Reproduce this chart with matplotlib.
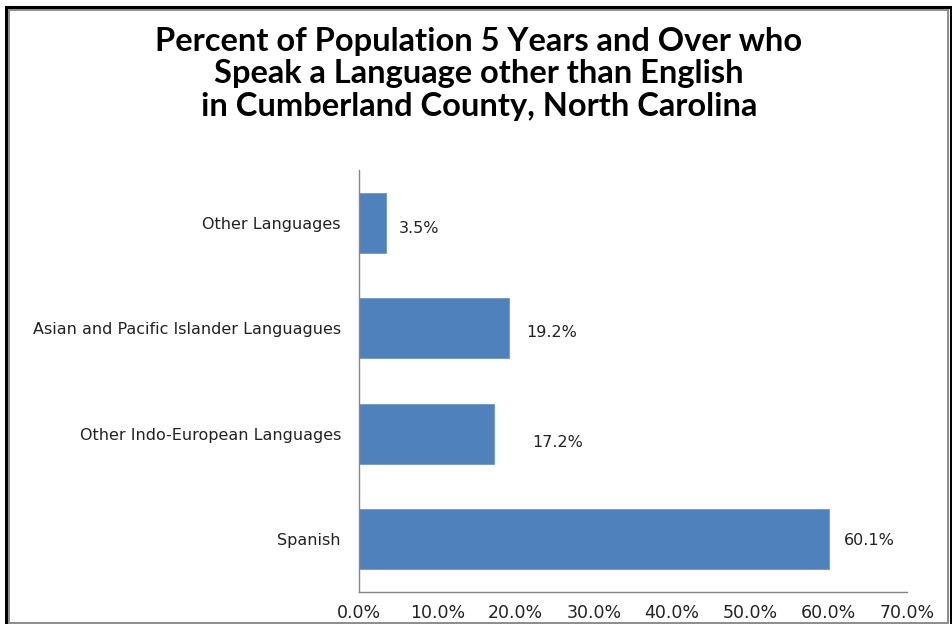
import matplotlib
matplotlib.use("Agg")
import matplotlib.pyplot as plt
from matplotlib.patches import Rectangle
from matplotlib.ticker import FuncFormatter

# Language groups, bottom to top as drawn
languages = [
    "Spanish",
    "Other Indo-European Languages",
    "Asian and Pacific Islander Languagues",
    "Other Languages",
]
percents = [60.1, 17.2, 19.2, 3.5]

# label nudges (points) so the value text sits where the old sheet put it
label_dx = [10, 28, 12, 9]
label_dy = [-1, -6, -3, -4]

title = ("Percent of Population 5 Years and Over who\n"
         "Speak a Language other than English\n"
         "in Cumberland County, North Carolina")

bar_color = "#4F81BD"
axis_color = "#868686"
text_color = "#222222"

fig = plt.figure(figsize=(9.53, 6.24), dpi=100)
W, H = 953, 624

# double frame around the chart: black outside, grey inside
fig.patches.append(Rectangle((6 / W, -0.01), 945 / W, 1 - 7 / H + 0.01,
                             transform=fig.transFigure, fill=False,
                             edgecolor="black", linewidth=2.2))
fig.patches.append(Rectangle((9 / W, 1 / H), 939 / W, 1 - 11 / H,
                             transform=fig.transFigure, fill=False,
                             edgecolor="#8c8c8c", linewidth=1.4))

fig.text(479 / W, 1 - 74 / H, title, ha="center", va="center",
         fontsize=23.5, fontweight="bold", family="Lato",
         linespacing=1.13, color="black")

ax = fig.add_axes([359 / W, 1 - 592 / H, (907 - 359) / W, (592 - 170) / H])
ypos = list(range(len(languages)))
ax.barh(ypos, percents, height=0.57, color=bar_color,
        edgecolor="#6f96cc", linewidth=0.6)

for y, v, dx, dy in zip(ypos, percents, label_dx, label_dy):
    ax.annotate(f"{v:.1f}%", (v, y), xytext=(dx, dy),
                textcoords="offset points", ha="left", va="center",
                fontsize=11.5, color=text_color)

ax.set_xlim(0, 70)
ax.set_ylim(-0.5, len(languages) - 0.5)
ax.set_xticks(range(0, 71, 10))
ax.xaxis.set_major_formatter(FuncFormatter(lambda x, _: f"{x:.1f}%"))
ax.set_yticks(ypos)
ax.set_yticklabels(languages)
ax.tick_params(axis="both", length=0, labelsize=11.5, colors=text_color)
ax.tick_params(axis="x", pad=9, labelsize=12.5)
ax.tick_params(axis="y", pad=13)

for side in ("top", "right"):
    ax.spines[side].set_visible(False)
for side in ("left", "bottom"):
    ax.spines[side].set_color(axis_color)
    ax.spines[side].set_linewidth(1.0)

fig.savefig("out.png", dpi=100, facecolor="white")
